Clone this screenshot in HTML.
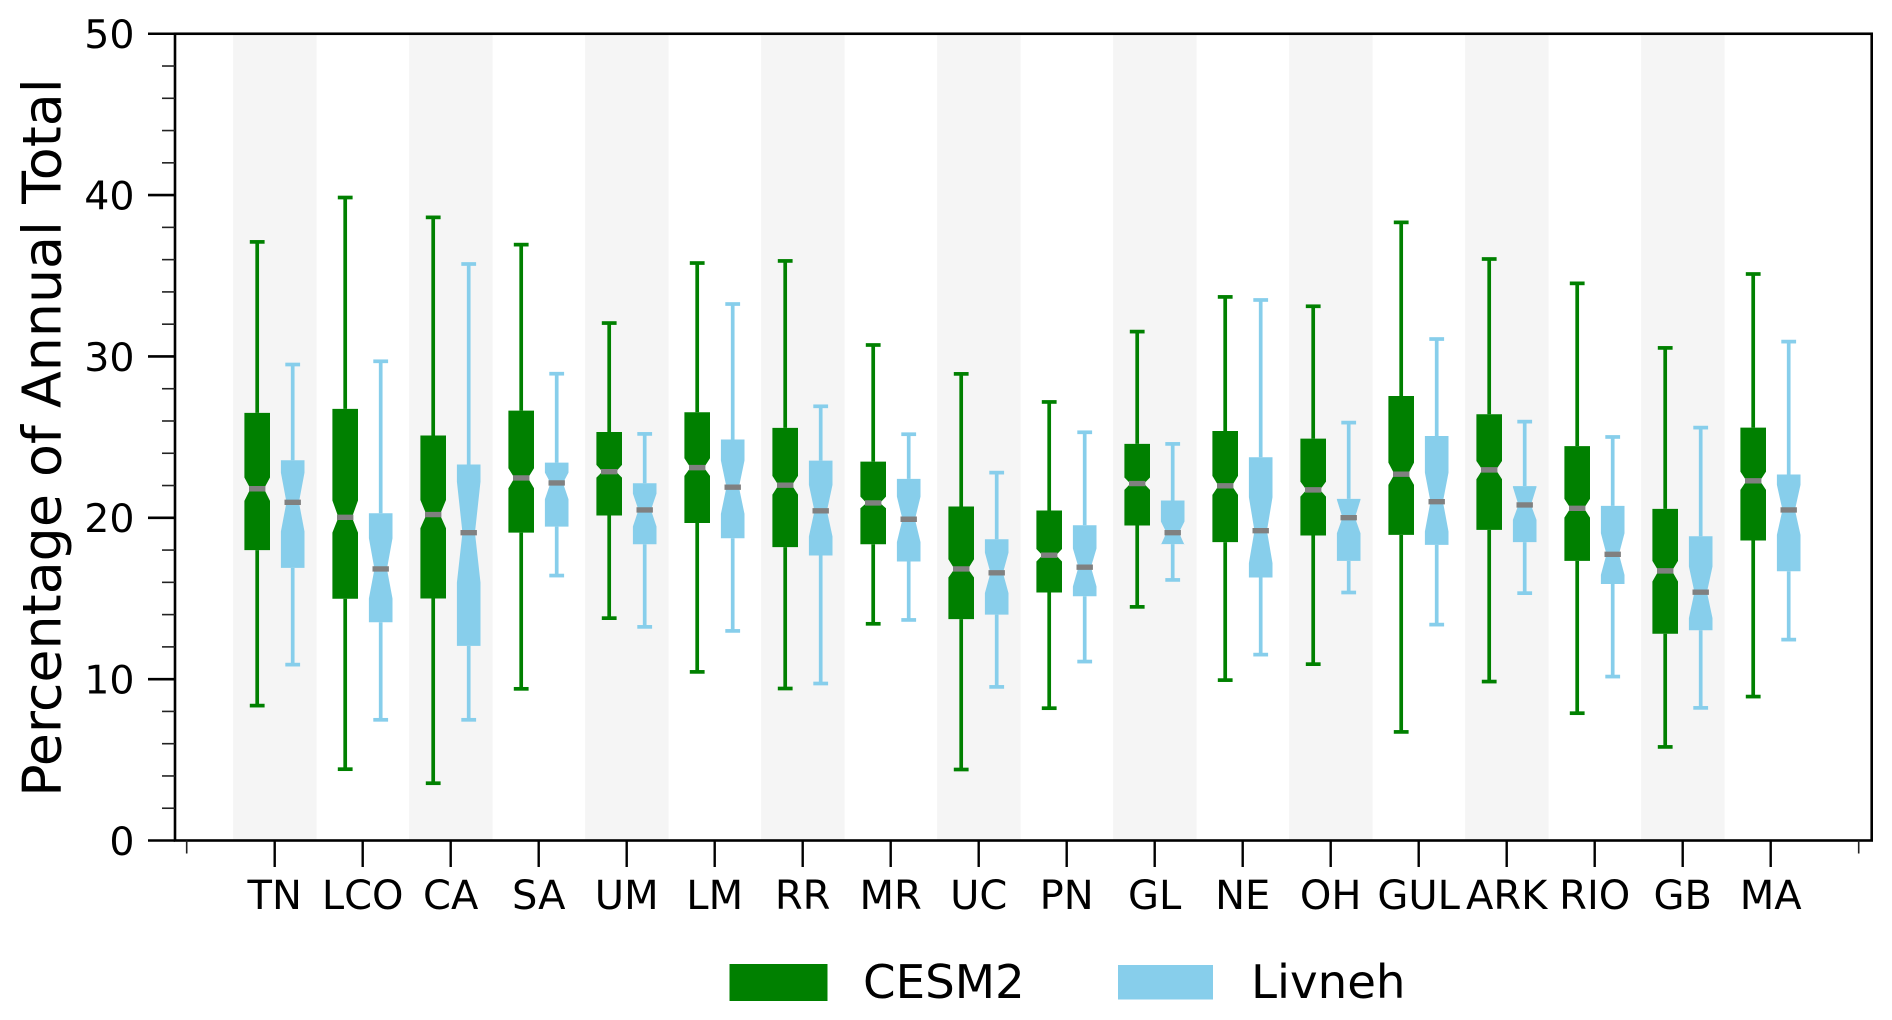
<!DOCTYPE html>
<html>
<head>
<meta charset="utf-8">
<title>Percentage of Annual Total box plot</title>
<style>
html,body{margin:0;padding:0;background:#fff;}
body{width:1892px;height:1020px;overflow:hidden;}
svg{display:block;}
text{font-family:"DejaVu Sans","Liberation Sans",sans-serif;fill:#000;}
</style>
</head>
<body>
<svg id="chart" width="1892" height="1020" viewBox="0 0 1892 1020" xmlns="http://www.w3.org/2000/svg">
  <g id="bands"></g>
  <g id="boxes"></g>
  <g id="axes"></g>
  <text transform="translate(60.5,437.5) rotate(-90)" text-anchor="middle" font-size="53.8">Percentage of Annual Total</text>
  <g>
    <rect x="729.5" y="964" width="98" height="37" fill="#008000"/>
    <text x="863" y="998" font-size="46.7">CESM2</text>
    <rect x="1118" y="965" width="95" height="34.5" fill="#87CEEB"/>
    <text x="1251" y="998" font-size="46.7">Livneh</text>
  </g>
</svg>
<script>
const categories = ["TN","LCO","CA","SA","UM","LM","RR","MR","UC","PN","GL","NE","OH","GUL","ARK","RIO","GB","MA"];
const yTickLabels = [0,10,20,30,40,50];
const yMinorTicks = [2,4,6,8,12,14,16,18,22,24,26,28,32,34,36,38,42,44,46,48];
const xMinorTicks = [-1,18];

const cesmWhiskerHigh = [37.1,39.85,38.62,36.93,32.07,35.79,35.92,30.71,28.92,27.18,31.54,33.69,33.11,38.31,36.04,34.53,30.53,35.11];
const cesmQ3 = [26.5,26.75,25.1,26.64,25.32,26.54,25.57,23.48,20.7,20.45,24.58,25.38,24.91,27.55,26.42,24.44,20.55,25.59];
const cesmNotchHigh = [22.5,21.07,21.1,23.07,23.28,23.69,22.6,21.31,17.43,18.07,22.5,22.6,22.24,23.42,23.52,21.17,17.33,22.86];
const cesmMedian = [21.8,20.03,20.2,22.47,22.86,23.11,22.02,20.92,16.83,17.68,22.12,21.98,21.73,22.7,22.97,20.59,16.71,22.29];
const cesmNotchLow = [21.05,19.08,19.35,21.83,22.49,22.6,21.44,20.59,16.3,17.29,21.73,21.42,21.31,22.04,22.39,20.01,16.05,21.73];
const cesmQ1 = [18.0,14.98,15.0,19.08,20.14,19.68,18.18,18.36,13.72,15.37,19.52,18.49,18.9,18.94,19.25,17.33,12.81,18.59];
const cesmWhiskerLow = [8.36,4.42,3.55,9.4,13.78,10.45,9.42,13.43,4.4,8.2,14.48,9.94,10.93,6.73,9.85,7.89,5.8,8.92];

const livnehWhiskerHigh = [29.5,29.7,35.73,28.93,25.2,33.25,26.91,25.18,22.8,25.3,24.58,33.5,25.9,31.08,25.96,25.01,25.59,30.92];
const livnehQ3 = [23.57,20.28,23.3,23.42,22.14,24.85,23.54,22.41,18.67,19.54,21.07,23.75,21.17,25.07,21.96,20.74,18.86,22.68];
const livnehNotchHigh = [22.8,18.73,22.24,22.8,21.5,23.55,22.04,21.31,17.84,18.1,19.77,21.27,21.12,22.8,21.9,19.04,16.98,22.04];
const livnehMedian = [20.96,16.83,19.08,22.16,20.49,21.9,20.43,19.91,16.59,16.94,19.08,19.2,20.01,21.0,20.8,17.74,15.39,20.49];
const livnehNotchLow = [19.15,15.0,15.98,21.15,19.46,20.24,18.84,18.49,15.33,15.74,18.32,17.19,19.04,19.15,19.87,16.46,13.78,18.94];
const livnehQ1 = [16.9,13.53,12.06,19.45,18.36,18.73,17.66,17.29,14.0,15.14,18.37,16.3,17.33,18.32,18.49,15.9,13.03,16.69];
const livnehWhiskerLow = [10.9,7.48,7.48,16.42,13.24,12.99,9.73,13.67,9.52,11.09,16.15,11.52,15.37,13.38,15.33,10.16,8.22,12.45];

const SVGNS = "http://www.w3.org/2000/svg";
function yScale(v){ return 840.5 - v * 16.135; }
function xScale(i){ return 274.7 + i * 88; }

function make(parent, tag, attrs){
  const el = document.createElementNS(SVGNS, tag);
  for (const k in attrs) el.setAttribute(k, attrs[k]);
  parent.appendChild(el);
  return el;
}

const bandsG = document.getElementById("bands");
categories.forEach(function(cat, i){
  if (i % 2 === 0) {
    const band = make(bandsG, "rect", {x: xScale(i) - 41.6, y: yScale(50), width: 83.5, height: yScale(0) - yScale(50), fill: "#f5f5f5"});
    
    
  }
});

function drawBox(parent, seriesName, i, cx, boxW, waistW, color, s){
  const g = make(parent, "g", {});
  
  
  make(g, "line", {x1: cx, x2: cx, y1: yScale(s.hi[i]), y2: yScale(s.q3[i]), stroke: color, "stroke-width": 3.7});
  make(g, "line", {x1: cx, x2: cx, y1: yScale(s.lo[i]), y2: yScale(s.q1[i]), stroke: color, "stroke-width": 3.7});
  make(g, "line", {x1: cx - 7.4, x2: cx + 7.4, y1: yScale(s.hi[i]), y2: yScale(s.hi[i]), stroke: color, "stroke-width": 3.7});
  make(g, "line", {x1: cx - 7.4, x2: cx + 7.4, y1: yScale(s.lo[i]), y2: yScale(s.lo[i]), stroke: color, "stroke-width": 3.7});
  const l = cx - boxW / 2, r = cx + boxW / 2, wl = cx - waistW / 2, wr = cx + waistW / 2;
  const pts = [
    [l, yScale(s.q1[i])], [r, yScale(s.q1[i])], [r, yScale(s.nl[i])], [wr, yScale(s.med[i])],
    [r, yScale(s.nh[i])], [r, yScale(s.q3[i])], [l, yScale(s.q3[i])], [l, yScale(s.nh[i])],
    [wl, yScale(s.med[i])], [l, yScale(s.nl[i])]
  ].map(function(p){ return p[0].toFixed(2) + "," + p[1].toFixed(2); }).join(" ");
  make(g, "polygon", {points: pts, fill: color});
  make(g, "line", {x1: cx - 8.2, x2: cx + 8.2, y1: yScale(s.med[i]), y2: yScale(s.med[i]), stroke: "#808080", "stroke-width": 5.4});
}

const cesmSeries = {hi: cesmWhiskerHigh, q3: cesmQ3, nh: cesmNotchHigh, med: cesmMedian, nl: cesmNotchLow, q1: cesmQ1, lo: cesmWhiskerLow};
const livnehSeries = {hi: livnehWhiskerHigh, q3: livnehQ3, nh: livnehNotchHigh, med: livnehMedian, nl: livnehNotchLow, q1: livnehQ1, lo: livnehWhiskerLow};
const boxesG = document.getElementById("boxes");
categories.forEach(function(cat, i){
  drawBox(boxesG, "cesm2", i, xScale(i) - 17.5, 25.6, 13.5, "#008000", cesmSeries);
  drawBox(boxesG, "livneh", i, xScale(i) + 18, 23.6, 12.5, "#87CEEB", livnehSeries);
});

const axesG = document.getElementById("axes");
const frame = make(axesG, "rect", {x: 175, y: yScale(50), width: 1696.7, height: yScale(0) - yScale(50), fill: "none", stroke: "#000", "stroke-width": 2.6});



yTickLabels.forEach(function(v){
  const tick = make(axesG, "line", {x1: 148, x2: 175, y1: yScale(v), y2: yScale(v), stroke: "#000", "stroke-width": 2.6});
  
  
  const t = make(axesG, "text", {x: 134.5, y: yScale(v) + 14.3, "text-anchor": "end", "font-size": 39.5});
  
  
  t.textContent = v;
});
yMinorTicks.forEach(function(v){
  const tick = make(axesG, "line", {x1: 162, x2: 175, y1: yScale(v), y2: yScale(v), stroke: "#222", "stroke-width": 1.6});
  
  
});
categories.forEach(function(cat, i){
  const tick = make(axesG, "line", {x1: xScale(i), x2: xScale(i), y1: yScale(0), y2: 867, stroke: "#000", "stroke-width": 2.4});
  
  
  const t = make(axesG, "text", {x: xScale(i), y: 909, "text-anchor": "middle", "font-size": 40});
  
  
  t.textContent = cat;
});
xMinorTicks.forEach(function(i){
  const tick = make(axesG, "line", {x1: xScale(i), x2: xScale(i), y1: yScale(0), y2: 853.5, stroke: "#222", "stroke-width": 1.6});
  
  
});
</script>
</body>
</html>
